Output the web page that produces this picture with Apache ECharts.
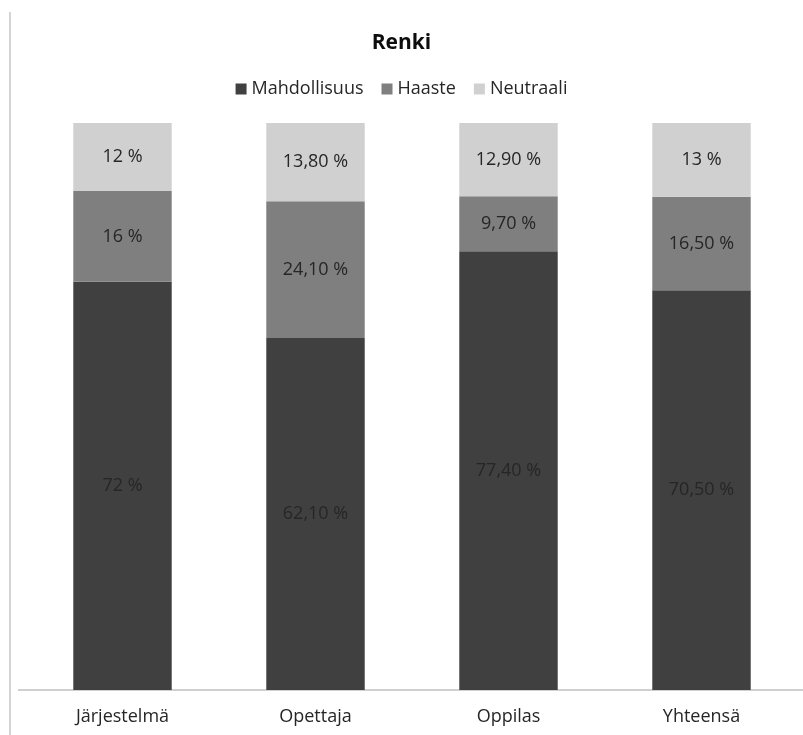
<!DOCTYPE html>
<html>
<head>
<meta charset="utf-8">
<style>
  html, body { margin: 0; padding: 0; background: #ffffff; }
  #chart { width: 803px; height: 735px; }
</style>
<script src="https://cdn.jsdelivr.net/npm/echarts@6/dist/echarts.min.js"></script>
</head>
<body>
<div id="chart"></div>
<script>
// Categories and shares (percent) per response type
const categories = ['Järjestelmä', 'Opettaja', 'Oppilas', 'Yhteensä'];
const mahdollisuus = [72, 62.1, 77.4, 70.5];
const haaste = [16, 24.1, 9.7, 16.5];
const neutraali = [12, 13.8, 12.9, 13];
const seriesNames = ['Mahdollisuus', 'Haaste', 'Neutraali'];

const FONT = '"Open Sans", Lato, sans-serif';
const colors = ['#404040', '#7f7f7f', '#d0d0d0'];

// Finnish-style number: comma decimal; whole numbers drop decimals
function fmt(v) {
  if (Number.isInteger(v)) return v + ' %';
  return v.toFixed(2).replace('.', ',') + ' %';
}

function makeSeries(name, data, color) {
  return {
    name: name,
    type: 'bar',
    stack: 'total',
    data: data,
    barWidth: '51%',
    itemStyle: { color: color },
    label: {
      show: true,
      position: 'inside',
      color: '#262626',
      fontFamily: FONT,
      fontSize: 18,
      formatter: p => fmt(p.value)
    }
  };
}

const chart = echarts.init(document.getElementById('chart'), null, { renderer: 'canvas' });
chart.setOption({
  animation: false,
  backgroundColor: '#ffffff',
  color: colors,
  title: {
    text: 'Renki',
    left: 'center',
    top: 28,
    textStyle: { fontFamily: FONT, fontSize: 21, fontWeight: 'bold', color: '#0d0d0d' }
  },
  legend: {
    data: seriesNames,
    top: 75,
    left: 'center',
    icon: 'rect',
    itemWidth: 11,
    itemHeight: 11,
    itemGap: 18,
    textStyle: { fontFamily: FONT, fontSize: 18, color: '#262626' }
  },
  grid: { left: 26, right: 5, top: 123, bottom: 45, containLabel: false },
  xAxis: {
    type: 'category',
    data: categories,
    axisLine: { show: true, lineStyle: { color: '#d0d0d0', width: 2 } },
    axisTick: { show: false },
    axisLabel: { fontFamily: FONT, fontSize: 18, color: '#262626', margin: 18 }
  },
  yAxis: {
    type: 'value',
    min: 0,
    max: 100,
    show: false,
    splitLine: { show: false }
  },
  graphic: [
    // frame edge on the left
    { type: 'line', shape: { x1: 10, y1: 12, x2: 10, y2: 735 }, style: { stroke: '#d4d4d4', lineWidth: 2 }, silent: true },
    // baseline continuation beyond the plot area
    { type: 'line', shape: { x1: 18, y1: 690, x2: 803, y2: 690 }, style: { stroke: '#d0d0d0', lineWidth: 2 }, silent: true, z: -1 }
  ],
  series: [
    makeSeries(seriesNames[0], mahdollisuus, colors[0]),
    makeSeries(seriesNames[1], haaste, colors[1]),
    makeSeries(seriesNames[2], neutraali, colors[2])
  ]
});
</script>
</body>
</html>
